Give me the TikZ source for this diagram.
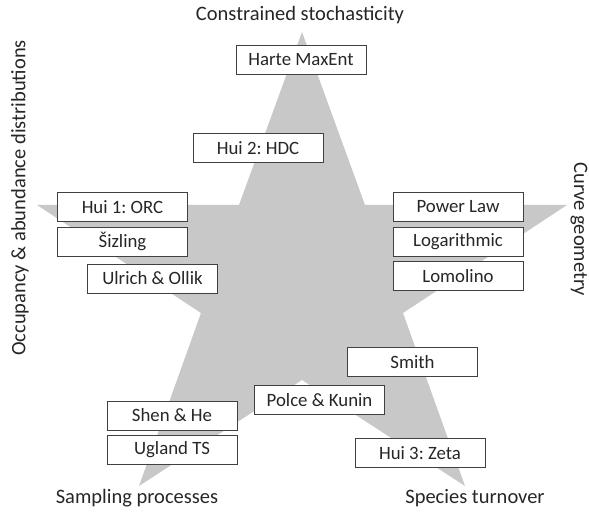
\documentclass[tikz,border=0pt]{standalone}
\usepackage{fontspec}
\setmainfont{Carlito}
\frenchspacing
\usepackage{tikz}
\usetikzlibrary{positioning}
\definecolor{stargrey}{RGB}{200,200,200}
\tikzstyle{box} = [rectangle, draw=black!75, line width=0.9pt, fill=white,
                   minimum width=130pt, minimum height=29pt, inner sep=0pt,
                   text=black!85, font=\fontsize{18.8}{20}\selectfont]
\tikzstyle{axis} = [text=black!85, font=\fontsize{20.5}{22}\selectfont]

\begin{document}
\begin{tikzpicture}[x=1pt, y=-1pt, node distance=34.5pt]
\useasboundingbox (0,0) rectangle (589,518);
% the star
\fill[stargrey] (302,32) -- (365,205) -- (567,205) -- (403,313) -- (465,486)
  -- (302,380) -- (139,486) -- (201,313) -- (37,205) -- (239,205) -- cycle;

\node [axis] (stoch) at (300,15) {Constrained stochasticity};
\node [axis, rotate=-90] (curve) at (579,229) {Curve geometry};
\node [axis, rotate=90] (occup) at (20,198) {Occupancy \& abundance distributions};
\node [axis] (sampl) at (137,498) {Sampling processes};
\node [axis] (turn) at (475,498) {Species turnover};

\node [box] (harte) at (301,60) {Harte MaxEnt};
\node [box] (hdc) at (258,148) {Hui 2: HDC};
\node [box] (orc) at (122.5,207) {Hui 1: ORC};
\node [box, below of=orc] (sizl) {Šizling};
\node [box] (ulrich) at (152.5,278.5) {Ulrich \& Ollik};
\node [box] (power) at (458,207) {Power Law};
\node [box, below of=power] (loga) {Logarithmic};
\node [box, below of=loga] (lomo) {Lomolino};
\node [box] (smith) at (412.5,362) {Smith};
\node [box] (polce) at (319.5,400) {Polce \& Kunin};
\node [box] (shen) at (172,415.5) {Shen \& He};
\node [box, below of=shen] (ugland) {Ugland TS};
\node [box] (zeta) at (420,453) {Hui 3: Zeta};

\end{tikzpicture}
\end{document}
